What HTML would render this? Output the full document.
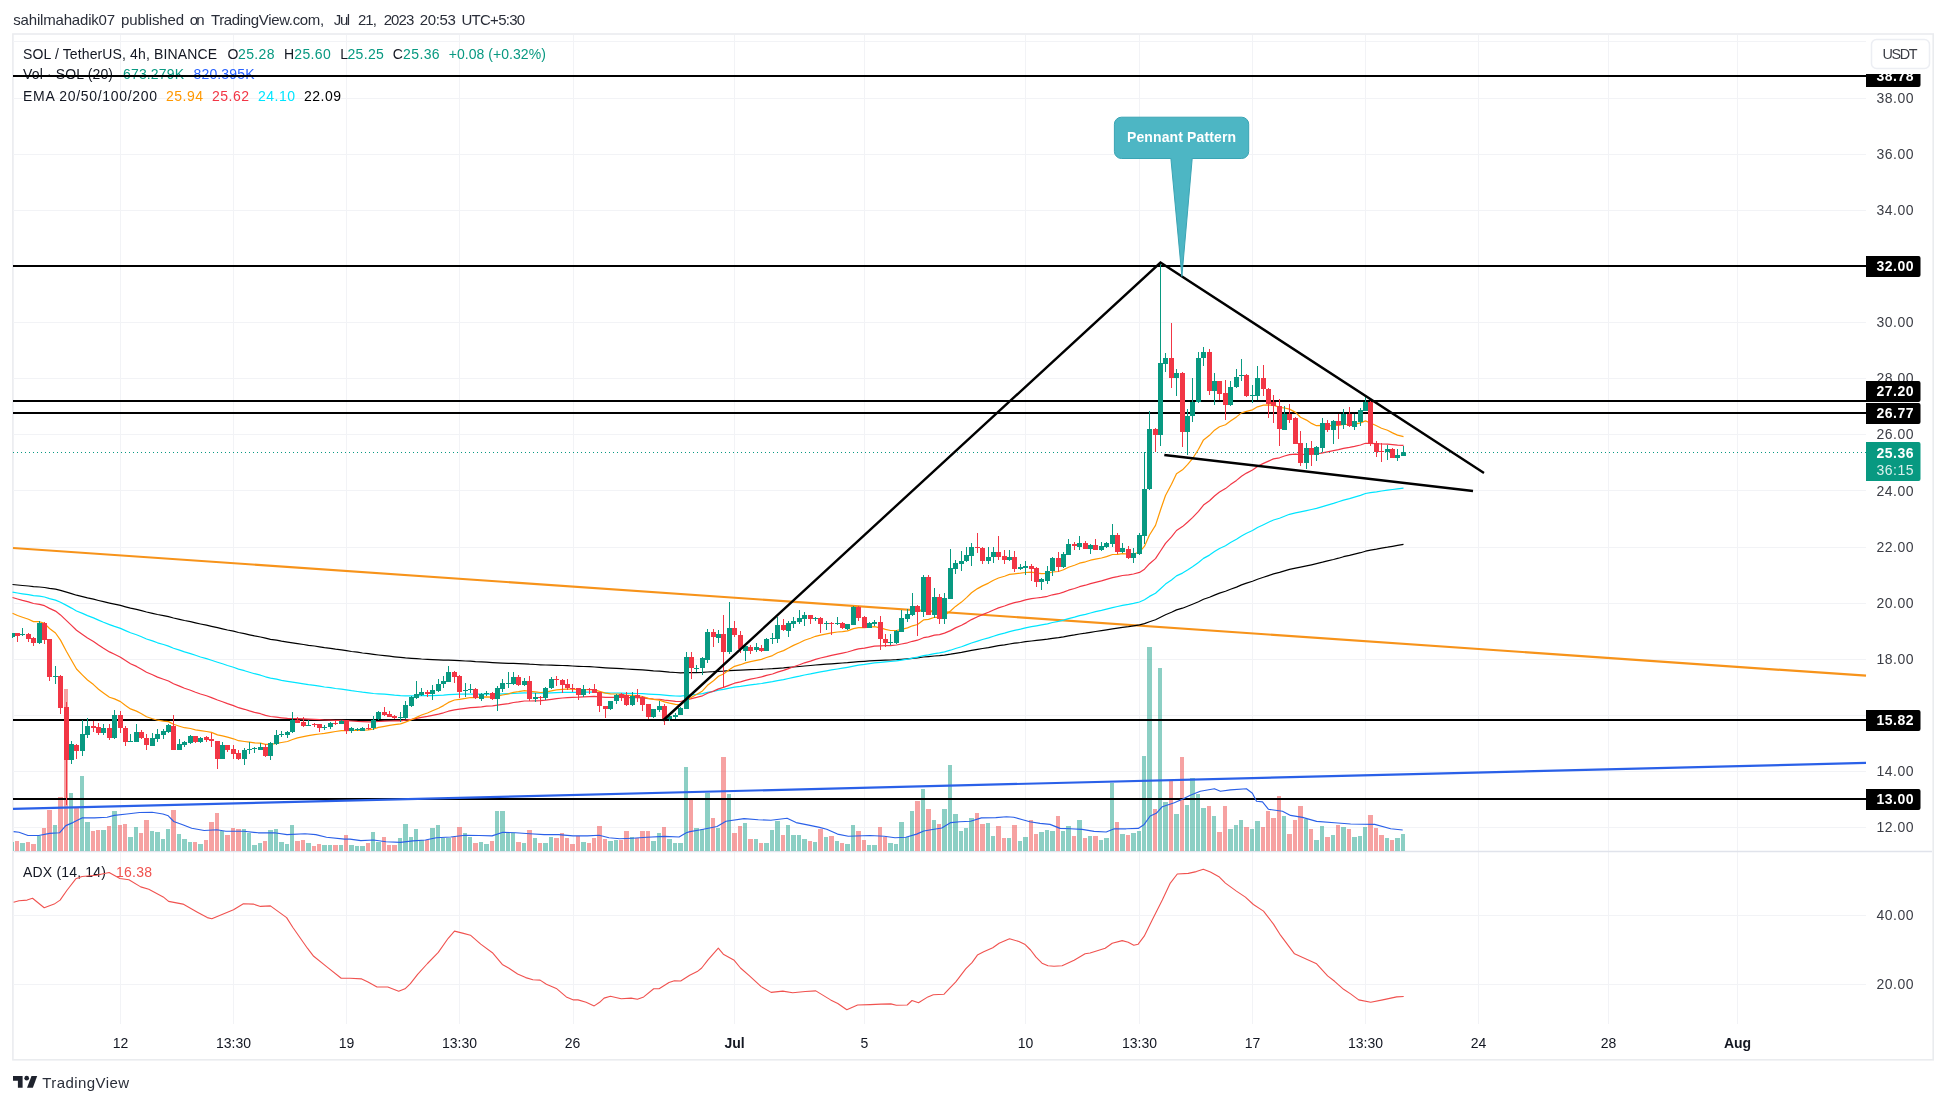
<!DOCTYPE html>
<html><head><meta charset="utf-8"><title>SOL / TetherUS chart</title>
<style>html,body{margin:0;padding:0;background:#fff;font-family:"Liberation Sans",sans-serif}svg{display:block;will-change:transform}text{font-family:"Liberation Sans",sans-serif}</style>
</head><body><svg width="1946" height="1104" viewBox="0 0 1946 1104" font-family="Liberation Sans, sans-serif" shape-rendering="auto"><rect x="12.9" y="34" width="1920.3" height="1025.8" fill="#fff" stroke="#eaecef" stroke-width="1.6"/>
<path d="M13 827.5H1866 M13 771.5H1866 M13 715.5H1866 M13 659.5H1866 M13 603.5H1866 M13 547.5H1866 M13 490.5H1866 M13 434.5H1866 M13 378.5H1866 M13 322.5H1866 M13 266.5H1866 M13 210.5H1866 M13 154.5H1866 M13 98.5H1866 M13 41.5H1866 M13 915.5H1866 M13 984.5H1866 M120.5 35V1024 M233.5 35V1024 M346.5 35V1024 M459.5 35V1024 M573.5 35V1024 M734.5 35V1024 M864.5 35V1024 M1025.5 35V1024 M1139.5 35V1024 M1252.5 35V1024 M1365.5 35V1024 M1478.5 35V1024 M1608.5 35V1024 M1737.5 35V1024" stroke="#f2f3f6" stroke-width="1" fill="none"/>
<path d="M14 851.5H1932" stroke="#e0e3eb" stroke-width="1.5" fill="none"/>
<text x="13.3" y="24.7" font-size="15" fill="#2a2e39" textLength="101.8">sahilmahadik07</text>
<text x="121" y="24.7" font-size="15" fill="#2a2e39" textLength="63">published</text>
<text x="189.7" y="24.7" font-size="15" fill="#2a2e39" textLength="15">on</text>
<text x="210.9" y="24.7" font-size="15" fill="#2a2e39" textLength="113.2">TradingView.com,</text>
<text x="333.8" y="24.7" font-size="15" fill="#2a2e39" textLength="16.4">Jul</text>
<text x="357.9" y="24.7" font-size="15" fill="#2a2e39" textLength="18.9">21,</text>
<text x="383.7" y="24.7" font-size="15" fill="#2a2e39" textLength="30.6">2023</text>
<text x="419.8" y="24.7" font-size="15" fill="#2a2e39" textLength="36.1">20:53</text>
<text x="461.4" y="24.7" font-size="15" fill="#2a2e39" textLength="63.8">UTC+5:30</text>
<text x="23" y="58.6" font-size="14" fill="#131722" textLength="194">SOL / TetherUS, 4h, BINANCE</text>
<text x="227.6" y="58.8" font-size="14" fill="#131722">O</text>
<text x="238" y="58.8" font-size="14" fill="#089981" textLength="36.5">25.28</text>
<text x="284" y="58.8" font-size="14" fill="#131722">H</text>
<text x="294.3" y="58.8" font-size="14" fill="#089981" textLength="36.5">25.60</text>
<text x="340.2" y="58.8" font-size="14" fill="#131722">L</text>
<text x="347.4" y="58.8" font-size="14" fill="#089981" textLength="36.5">25.25</text>
<text x="392.8" y="58.8" font-size="14" fill="#131722">C</text>
<text x="403.1" y="58.8" font-size="14" fill="#089981" textLength="36.5">25.36</text>
<text x="448.8" y="58.8" font-size="14" fill="#089981" textLength="97">+0.08 (+0.32%)</text>
<text x="23" y="79" font-size="14" fill="#131722" textLength="90">Vol · SOL (20)</text>
<text x="123" y="79" font-size="14" fill="#089981" textLength="61">673.279K</text>
<text x="193.5" y="79" font-size="14" fill="#2962ff" textLength="61">820.395K</text>
<text x="23" y="100.5" font-size="14" fill="#131722" textLength="134">EMA 20/50/100/200</text>
<text x="166" y="100.5" font-size="14" fill="#ff9800" textLength="37">25.94</text>
<text x="212" y="100.5" font-size="14" fill="#f23645" textLength="37">25.62</text>
<text x="258" y="100.5" font-size="14" fill="#00e5ff" textLength="37">24.10</text>
<text x="304" y="100.5" font-size="14" fill="#000" textLength="37">22.09</text>
<text x="23" y="877" font-size="14" fill="#131722" textLength="83">ADX (14, 14)</text>
<text x="116" y="877" font-size="14" fill="#f0524f" textLength="36">16.38</text>
<path d="M13 842h1V851h-1zM20 843h5V851h-5zM37 836h4V851h-4zM53 825h4V851h-4zM69 793h4V851h-4zM80 776h4V851h-4zM85 822h5V851h-5zM101 830h5V851h-5zM112 811h5V851h-5zM128 837h5V851h-5zM134 827h4V851h-4zM150 831h4V851h-4zM155 832h5V851h-5zM161 839h4V851h-4zM166 829h4V851h-4zM177 834h4V851h-4zM182 839h5V851h-5zM188 842h4V851h-4zM198 844h5V851h-5zM220 831h4V851h-4zM242 829h4V851h-4zM247 833h4V851h-4zM252 845h5V851h-5zM258 843h4V851h-4zM268 830h5V851h-5zM274 829h4V851h-4zM279 842h5V851h-5zM285 844h4V851h-4zM290 825h4V851h-4zM306 843h5V851h-5zM322 845h5V851h-5zM328 845h4V851h-4zM339 845h4V851h-4zM349 845h5V851h-5zM355 846h4V851h-4zM360 846h5V851h-5zM371 832h4V851h-4zM376 842h5V851h-5zM398 838h4V851h-4zM403 824h5V851h-5zM409 837h4V851h-4zM414 829h4V851h-4zM419 840h5V851h-5zM430 828h5V851h-5zM436 825h4V851h-4zM441 838h4V851h-4zM446 838h5V851h-5zM463 833h4V851h-4zM468 837h4V851h-4zM479 842h4V851h-4zM484 844h5V851h-5zM495 811h4V851h-4zM500 811h5V851h-5zM506 832h4V851h-4zM511 833h4V851h-4zM522 843h4V851h-4zM533 838h4V851h-4zM543 843h5V851h-5zM549 837h4V851h-4zM581 842h5V851h-5zM608 841h5V851h-5zM614 840h4V851h-4zM630 837h4V851h-4zM651 841h5V851h-5zM657 833h4V851h-4zM667 839h5V851h-5zM673 843h4V851h-4zM678 843h5V851h-5zM684 767h4V851h-4zM694 828h5V851h-5zM700 829h4V851h-4zM705 793h5V851h-5zM716 828h4V851h-4zM727 794h4V851h-4zM743 823h4V851h-4zM754 839h4V851h-4zM764 843h5V851h-5zM770 830h4V851h-4zM775 821h5V851h-5zM786 825h4V851h-4zM791 835h5V851h-5zM797 835h4V851h-4zM802 839h5V851h-5zM813 842h4V851h-4zM824 837h4V851h-4zM835 841h4V851h-4zM845 844h5V851h-5zM851 825h4V851h-4zM867 845h4V851h-4zM872 845h5V851h-5zM888 843h5V851h-5zM894 844h4V851h-4zM899 822h5V851h-5zM905 837h4V851h-4zM910 811h4V851h-4zM921 789h4V851h-4zM932 820h4V851h-4zM942 809h5V851h-5zM948 765h4V851h-4zM953 814h5V851h-5zM959 831h4V851h-4zM964 828h4V851h-4zM969 818h5V851h-5zM986 823h4V851h-4zM991 836h4V851h-4zM1007 838h4V851h-4zM1018 841h4V851h-4zM1023 837h5V851h-5zM1039 832h5V851h-5zM1045 830h4V851h-4zM1050 831h5V851h-5zM1061 831h4V851h-4zM1066 826h5V851h-5zM1077 820h5V851h-5zM1088 836h4V851h-4zM1099 840h4V851h-4zM1104 838h5V851h-5zM1110 783h4V851h-4zM1120 834h5V851h-5zM1131 833h5V851h-5zM1137 831h4V851h-4zM1142 756h4V851h-4zM1147 647h5V851h-5zM1158 668h4V851h-4zM1163 802h5V851h-5zM1174 814h5V851h-5zM1185 805h4V851h-4zM1190 778h5V851h-5zM1196 794h4V851h-4zM1201 808h5V851h-5zM1212 816h4V851h-4zM1228 829h5V851h-5zM1234 825h4V851h-4zM1239 820h4V851h-4zM1250 829h4V851h-4zM1255 821h5V851h-5zM1282 816h4V851h-4zM1304 819h4V851h-4zM1314 840h5V851h-5zM1320 826h4V851h-4zM1331 835h4V851h-4zM1341 827h5V851h-5zM1352 837h5V851h-5zM1358 836h4V851h-4zM1363 827h4V851h-4zM1385 838h4V851h-4zM1395 838h5V851h-5zM1401 834h4V851h-4z" fill="#1a9f8a" fill-opacity="0.5"/>
<path d="M15 841h4V851h-4zM26 842h4V851h-4zM31 844h5V851h-5zM42 828h4V851h-4zM47 810h5V851h-5zM58 797h5V851h-5zM64 689h4V851h-4zM74 807h5V851h-5zM91 831h4V851h-4zM96 830h4V851h-4zM107 826h4V851h-4zM118 825h4V851h-4zM123 824h4V851h-4zM139 833h4V851h-4zM144 820h5V851h-5zM171 810h5V851h-5zM193 842h4V851h-4zM204 840h4V851h-4zM209 822h5V851h-5zM215 813h4V851h-4zM225 835h5V851h-5zM231 828h4V851h-4zM236 829h5V851h-5zM263 841h4V851h-4zM295 841h5V851h-5zM301 840h4V851h-4zM312 846h4V851h-4zM317 844h4V851h-4zM333 845h5V851h-5zM344 835h4V851h-4zM366 843h4V851h-4zM382 837h4V851h-4zM387 845h4V851h-4zM392 845h5V851h-5zM425 840h4V851h-4zM452 837h4V851h-4zM457 827h5V851h-5zM473 843h5V851h-5zM490 841h4V851h-4zM516 842h5V851h-5zM527 830h5V851h-5zM538 843h4V851h-4zM554 838h5V851h-5zM560 833h4V851h-4zM565 838h4V851h-4zM570 844h5V851h-5zM576 836h4V851h-4zM587 843h4V851h-4zM592 838h4V851h-4zM597 826h5V851h-5zM603 839h4V851h-4zM619 840h4V851h-4zM624 831h5V851h-5zM635 838h4V851h-4zM640 831h5V851h-5zM646 831h4V851h-4zM662 827h4V851h-4zM689 800h4V851h-4zM711 818h4V851h-4zM721 757h5V851h-5zM732 833h5V851h-5zM738 826h4V851h-4zM748 839h5V851h-5zM759 843h4V851h-4zM781 835h4V851h-4zM808 841h4V851h-4zM818 829h5V851h-5zM829 836h5V851h-5zM840 843h4V851h-4zM856 831h5V851h-5zM862 840h4V851h-4zM878 827h4V851h-4zM883 837h4V851h-4zM915 801h5V851h-5zM926 809h5V851h-5zM937 824h4V851h-4zM975 813h4V851h-4zM980 824h5V851h-5zM996 826h5V851h-5zM1002 838h4V851h-4zM1012 825h5V851h-5zM1029 820h4V851h-4zM1034 834h4V851h-4zM1056 816h4V851h-4zM1072 836h4V851h-4zM1083 838h4V851h-4zM1093 836h5V851h-5zM1115 822h4V851h-4zM1126 835h4V851h-4zM1153 809h4V851h-4zM1169 781h4V851h-4zM1180 757h4V851h-4zM1207 806h4V851h-4zM1217 832h5V851h-5zM1223 806h4V851h-4zM1244 827h5V851h-5zM1261 827h4V851h-4zM1266 811h4V851h-4zM1271 818h5V851h-5zM1277 796h4V851h-4zM1287 834h5V851h-5zM1293 820h4V851h-4zM1298 806h5V851h-5zM1309 829h4V851h-4zM1325 837h5V851h-5zM1336 825h4V851h-4zM1347 829h4V851h-4zM1368 815h5V851h-5zM1374 828h4V851h-4zM1379 835h5V851h-5zM1390 840h4V851h-4z" fill="#ee4646" fill-opacity="0.5"/>
<path d="M13 76H1866" stroke="#000" stroke-width="2"/>
<path d="M13 266H1866" stroke="#000" stroke-width="2"/>
<path d="M13 401H1866" stroke="#000" stroke-width="2"/>
<path d="M13 413H1866" stroke="#000" stroke-width="2"/>
<path d="M13 720H1866" stroke="#000" stroke-width="2"/>
<path d="M13 799H1866" stroke="#000" stroke-width="2"/>
<path d="M13 548L1866 675.7" stroke="#f7931a" stroke-width="2.2" fill="none"/>
<path d="M13 808.9L1866 762.9" stroke="#2a60e8" stroke-width="2.2" fill="none"/>
<polyline points="13.6,831.6 19.0,832.3 28.0,835.5 38.8,835.5 49.6,833.4 59.5,832.8 65.8,825.6 72.9,822.6 81.9,817.9 94.5,817.9 107.1,817.2 114.3,815.4 126.9,814.0 139.5,812.5 152.1,812.2 162.9,814.0 168.3,815.8 173.7,821.5 182.7,824.7 191.7,828.3 204.2,830.5 216.8,829.8 225.8,831.2 243.8,831.2 258.2,832.8 274.4,832.8 287.0,834.6 305.0,833.7 315.8,834.6 326.5,837.3 344.5,839.1 350.0,839.1 360.8,840.6 373.4,840.0 386.0,841.8 400.4,842.4 412.9,840.9 425.5,840.0 436.3,837.7 450.7,837.0 465.1,835.2 479.5,835.5 492.1,835.9 502.9,832.3 515.5,832.8 529.9,833.7 544.2,834.6 558.6,834.6 573.0,835.9 587.4,835.9 599.1,835.2 609.0,837.7 619.8,838.8 632.4,838.2 646.8,837.3 664.7,836.4 679.1,837.0 686.3,832.8 690.0,831.6 700.8,829.8 717.0,826.5 726.0,821.2 744.0,818.6 758.3,819.7 770.9,820.3 787.1,818.3 796.1,822.6 808.7,825.1 819.5,827.4 826.7,829.2 837.5,834.1 848.3,836.3 869.9,835.5 884.2,836.3 895.0,837.7 905.8,837.3 916.6,834.1 923.8,831.0 931.0,829.8 941.8,828.0 950.8,822.6 959.8,821.7 970.6,821.2 981.4,817.9 995.8,817.6 1006.5,816.7 1013.7,817.2 1022.7,819.7 1029.9,821.7 1040.0,823.4 1050.0,824.4 1060.1,828.4 1070.1,828.8 1082.1,829.4 1094.1,831.4 1106.2,832.0 1114.2,828.8 1126.2,828.8 1138.2,828.4 1144.2,824.4 1150.2,816.0 1156.3,813.3 1162.3,806.7 1174.3,802.7 1182.3,799.3 1190.3,795.3 1200.3,791.3 1214.4,788.7 1220.4,791.3 1230.4,789.9 1246.4,788.7 1252.4,793.3 1256.5,801.3 1262.5,801.9 1268.5,809.3 1282.5,811.3 1290.5,815.4 1302.5,817.4 1316.6,821.4 1334.6,822.8 1350.6,824.0 1374.7,824.4 1390.7,828.8 1402.7,830.0" fill="none" stroke="#2a60e8" stroke-width="1.15" stroke-linejoin="round"/>
<polyline points="12.5,584.5 17.5,585.0 22.5,585.5 28.5,586.0 33.5,586.6 39.5,587.0 44.5,587.5 49.5,588.4 55.5,589.2 60.5,590.4 66.5,592.1 71.5,593.6 76.5,595.2 82.5,596.6 87.5,597.9 93.5,599.2 98.5,600.5 103.5,601.7 109.5,603.1 114.5,604.2 120.5,605.4 125.5,606.8 130.5,608.1 136.5,609.4 141.5,610.7 146.5,612.0 152.5,613.3 157.5,614.5 163.5,615.6 168.5,616.7 173.5,618.0 179.5,619.3 184.5,620.5 190.5,621.7 195.5,622.9 200.5,624.0 206.5,625.2 211.5,626.3 217.5,627.6 222.5,628.8 227.5,630.0 233.5,631.2 238.5,632.5 244.5,633.7 249.5,634.8 254.5,635.9 260.5,637.0 265.5,638.2 270.5,639.3 276.5,640.2 281.5,641.2 287.5,642.1 292.5,642.8 297.5,643.6 303.5,644.5 308.5,645.3 314.5,646.0 319.5,646.9 324.5,647.7 330.5,648.4 335.5,649.2 341.5,649.9 346.5,650.7 351.5,651.5 357.5,652.2 362.5,653.0 368.5,653.7 373.5,654.4 378.5,655.0 384.5,655.6 389.5,656.2 394.5,656.8 400.5,657.4 405.5,657.9 411.5,658.3 416.5,658.6 421.5,659.0 427.5,659.3 432.5,659.6 438.5,659.9 443.5,660.1 448.5,660.2 454.5,660.4 459.5,660.7 465.5,661.0 470.5,661.2 475.5,661.6 481.5,661.9 486.5,662.2 492.5,662.6 497.5,662.9 502.5,663.1 508.5,663.3 513.5,663.4 518.5,663.6 524.5,663.8 529.5,664.2 535.5,664.5 540.5,664.8 545.5,665.0 551.5,665.2 556.5,665.3 562.5,665.5 567.5,665.7 572.5,666.0 578.5,666.3 583.5,666.5 589.5,666.7 594.5,667.0 599.5,667.4 605.5,667.8 610.5,668.1 616.5,668.4 621.5,668.7 626.5,669.0 632.5,669.3 637.5,669.6 642.5,669.9 648.5,670.4 653.5,670.8 659.5,671.1 664.5,671.6 669.5,672.1 675.5,672.5 680.5,672.8 686.5,672.7 691.5,672.6 696.5,672.6 702.5,672.4 707.5,672.0 713.5,671.7 718.5,671.3 723.5,671.1 729.5,670.7 734.5,670.3 740.5,670.1 745.5,669.9 750.5,669.7 756.5,669.5 761.5,669.3 766.5,669.0 772.5,668.7 777.5,668.3 783.5,667.9 788.5,667.4 793.5,667.0 799.5,666.5 804.5,666.0 810.5,665.5 815.5,665.0 820.5,664.6 826.5,664.2 831.5,663.8 837.5,663.4 842.5,663.0 847.5,662.7 853.5,662.1 858.5,661.7 864.5,661.3 869.5,660.9 874.5,660.6 880.5,660.3 885.5,660.2 890.5,660.0 896.5,659.7 901.5,659.3 907.5,658.8 912.5,658.3 917.5,657.8 923.5,657.0 928.5,656.6 934.5,656.0 939.5,655.7 944.5,655.1 950.5,654.2 955.5,653.3 961.5,652.4 966.5,651.4 971.5,650.4 977.5,649.4 982.5,648.5 988.5,647.6 993.5,646.6 998.5,645.7 1004.5,644.9 1009.5,644.0 1014.5,643.2 1020.5,642.5 1025.5,641.7 1031.5,641.0 1036.5,640.4 1041.5,639.8 1047.5,639.1 1052.5,638.3 1058.5,637.6 1063.5,636.8 1068.5,635.8 1074.5,634.9 1079.5,634.0 1085.5,633.2 1090.5,632.3 1095.5,631.5 1101.5,630.6 1106.5,629.8 1112.5,628.8 1117.5,628.1 1122.5,627.3 1128.5,626.6 1133.5,625.8 1139.5,624.9 1144.5,623.6 1149.5,621.7 1155.5,619.8 1160.5,617.2 1165.5,614.7 1171.5,612.3 1176.5,609.9 1182.5,608.2 1187.5,606.2 1192.5,604.2 1198.5,601.8 1203.5,599.3 1209.5,597.2 1214.5,595.1 1219.5,593.1 1225.5,591.2 1230.5,589.2 1236.5,587.1 1241.5,584.9 1246.5,583.1 1252.5,581.2 1257.5,579.2 1263.5,577.3 1268.5,575.6 1273.5,573.9 1279.5,572.4 1284.5,570.9 1289.5,569.4 1295.5,568.1 1300.5,567.1 1306.5,565.9 1311.5,564.8 1316.5,563.6 1322.5,562.2 1327.5,560.9 1333.5,559.5 1338.5,558.2 1343.5,556.7 1349.5,555.4 1354.5,554.1 1360.5,552.7 1365.5,551.2 1370.5,550.1 1376.5,549.1 1381.5,548.1 1387.5,547.2 1392.5,546.3 1397.5,545.4 1403.5,544.4" fill="none" stroke="#000000" stroke-width="1.2" stroke-linejoin="round"/>
<polyline points="12.5,592.1 17.5,593.0 22.5,593.8 28.5,594.7 33.5,595.6 39.5,596.2 44.5,597.0 49.5,598.6 55.5,600.1 60.5,602.3 66.5,605.4 71.5,608.1 76.5,611.0 82.5,613.4 87.5,615.6 93.5,617.9 98.5,620.1 103.5,622.3 109.5,624.6 114.5,626.4 120.5,628.4 125.5,630.6 130.5,632.8 136.5,634.8 141.5,636.8 146.5,639.0 152.5,640.9 157.5,642.8 163.5,644.5 168.5,646.1 173.5,648.2 179.5,650.1 184.5,651.9 190.5,653.6 195.5,655.3 200.5,657.0 206.5,658.6 211.5,660.2 217.5,662.2 222.5,663.8 227.5,665.5 233.5,667.3 238.5,669.1 244.5,670.7 249.5,672.2 254.5,673.7 260.5,675.2 265.5,676.8 270.5,678.1 276.5,679.2 281.5,680.3 287.5,681.3 292.5,682.1 297.5,682.9 303.5,683.8 308.5,684.6 314.5,685.4 319.5,686.2 324.5,687.0 330.5,687.7 335.5,688.5 341.5,689.1 346.5,689.9 351.5,690.7 357.5,691.5 362.5,692.2 368.5,692.9 373.5,693.5 378.5,693.8 384.5,694.2 389.5,694.7 394.5,695.2 400.5,695.6 405.5,695.8 411.5,695.8 416.5,695.8 421.5,695.7 427.5,695.7 432.5,695.6 438.5,695.3 443.5,695.1 448.5,694.6 454.5,694.3 459.5,694.2 465.5,694.1 470.5,694.0 475.5,694.1 481.5,694.1 486.5,694.1 492.5,694.2 497.5,694.1 502.5,693.9 508.5,693.6 513.5,693.3 518.5,693.2 524.5,692.9 529.5,693.0 535.5,693.1 540.5,693.2 545.5,693.1 551.5,692.8 556.5,692.6 562.5,692.4 567.5,692.3 572.5,692.3 578.5,692.3 583.5,692.2 589.5,692.2 594.5,692.2 599.5,692.5 605.5,692.8 610.5,693.0 616.5,693.0 621.5,693.1 626.5,693.3 632.5,693.4 637.5,693.5 642.5,693.7 648.5,694.1 653.5,694.4 659.5,694.7 664.5,695.2 669.5,695.6 675.5,696.0 680.5,696.2 686.5,695.4 691.5,694.9 696.5,694.4 702.5,693.6 707.5,692.4 713.5,691.3 718.5,690.2 723.5,689.4 729.5,688.2 734.5,687.2 740.5,686.4 745.5,685.6 750.5,684.9 756.5,684.2 761.5,683.5 766.5,682.6 772.5,681.7 777.5,680.6 783.5,679.6 788.5,678.5 793.5,677.4 799.5,676.2 804.5,675.0 810.5,673.9 815.5,672.8 820.5,671.8 826.5,670.8 831.5,669.9 837.5,669.0 842.5,668.2 847.5,667.3 853.5,666.1 858.5,665.2 864.5,664.4 869.5,663.6 874.5,662.8 880.5,662.3 885.5,661.9 890.5,661.5 896.5,660.9 901.5,660.1 907.5,659.2 912.5,658.1 917.5,657.2 923.5,655.6 928.5,654.8 934.5,653.6 939.5,652.9 944.5,651.9 950.5,650.2 955.5,648.5 961.5,646.7 966.5,644.9 971.5,643.0 977.5,641.1 982.5,639.5 988.5,637.9 993.5,636.2 998.5,634.6 1004.5,633.1 1009.5,631.6 1014.5,630.4 1020.5,629.1 1025.5,627.9 1031.5,626.7 1036.5,625.8 1041.5,624.9 1047.5,623.8 1052.5,622.5 1058.5,621.4 1063.5,620.1 1068.5,618.6 1074.5,617.1 1079.5,615.7 1085.5,614.3 1090.5,613.0 1095.5,611.7 1101.5,610.4 1106.5,609.1 1112.5,607.6 1117.5,606.5 1122.5,605.4 1128.5,604.4 1133.5,603.4 1139.5,602.0 1144.5,599.8 1149.5,596.4 1155.5,593.2 1160.5,588.7 1165.5,584.1 1171.5,580.0 1176.5,575.9 1182.5,573.1 1187.5,570.0 1192.5,566.7 1198.5,562.5 1203.5,558.4 1209.5,555.1 1214.5,551.6 1219.5,548.5 1225.5,545.7 1230.5,542.5 1236.5,539.2 1241.5,536.0 1246.5,533.2 1252.5,530.5 1257.5,527.5 1263.5,524.7 1268.5,522.3 1273.5,520.0 1279.5,518.2 1284.5,516.2 1289.5,514.3 1295.5,512.9 1300.5,511.9 1306.5,510.6 1311.5,509.5 1316.5,508.3 1322.5,506.6 1327.5,505.1 1333.5,503.4 1338.5,501.8 1343.5,500.1 1349.5,498.6 1354.5,497.1 1360.5,495.4 1365.5,493.5 1370.5,492.6 1376.5,491.8 1381.5,491.0 1387.5,490.1 1392.5,489.5 1397.5,488.8 1403.5,488.1" fill="none" stroke="#00e5ff" stroke-width="1.2" stroke-linejoin="round"/>
<polyline points="12.5,597.5 17.5,599.0 22.5,600.4 28.5,601.9 33.5,603.5 39.5,604.3 44.5,605.7 49.5,608.4 55.5,611.1 60.5,614.9 66.5,620.6 71.5,625.4 76.5,630.3 82.5,634.4 87.5,638.0 93.5,641.5 98.5,645.1 103.5,648.3 109.5,651.9 114.5,654.3 120.5,657.2 125.5,660.6 130.5,663.7 136.5,666.4 141.5,669.2 146.5,672.2 152.5,674.8 157.5,677.1 163.5,679.2 168.5,681.0 173.5,683.7 179.5,686.1 184.5,688.3 190.5,690.2 195.5,692.2 200.5,694.0 206.5,695.8 211.5,697.6 217.5,700.0 222.5,701.7 227.5,703.6 233.5,705.6 238.5,707.7 244.5,709.3 249.5,710.9 254.5,712.3 260.5,713.7 265.5,715.4 270.5,716.5 276.5,717.2 281.5,717.8 287.5,718.4 292.5,718.5 297.5,718.6 303.5,718.9 308.5,719.1 314.5,719.4 319.5,719.7 324.5,720.0 330.5,720.1 335.5,720.3 341.5,720.3 346.5,720.7 351.5,721.0 357.5,721.4 362.5,721.6 368.5,721.9 373.5,721.8 378.5,721.5 384.5,721.2 389.5,721.0 394.5,720.9 400.5,720.8 405.5,720.2 411.5,719.3 416.5,718.3 421.5,717.3 427.5,716.3 432.5,715.3 438.5,714.1 443.5,712.8 448.5,711.2 454.5,709.9 459.5,709.2 465.5,708.4 470.5,707.7 475.5,707.3 481.5,706.8 486.5,706.2 492.5,705.9 497.5,705.2 502.5,704.4 508.5,703.6 513.5,702.5 518.5,701.9 524.5,701.0 529.5,701.0 535.5,700.8 540.5,700.7 545.5,700.2 551.5,699.3 556.5,698.6 562.5,698.0 567.5,697.7 572.5,697.3 578.5,697.2 583.5,696.9 589.5,696.6 594.5,696.4 599.5,696.8 605.5,697.3 610.5,697.4 616.5,697.4 621.5,697.4 626.5,697.7 632.5,697.6 637.5,697.6 642.5,697.9 648.5,698.6 653.5,699.0 659.5,699.3 664.5,700.1 669.5,700.7 675.5,701.3 680.5,701.5 686.5,699.8 691.5,698.6 696.5,697.4 702.5,695.8 707.5,693.3 713.5,691.1 718.5,688.9 723.5,687.4 729.5,685.1 734.5,683.2 740.5,681.8 745.5,680.4 750.5,679.2 756.5,678.0 761.5,676.9 766.5,675.4 772.5,674.0 777.5,672.1 783.5,670.4 788.5,668.6 793.5,666.7 799.5,664.8 804.5,662.8 810.5,661.1 815.5,659.4 820.5,658.0 826.5,656.7 831.5,655.4 837.5,654.1 842.5,653.1 847.5,652.0 853.5,650.2 858.5,648.9 864.5,648.1 869.5,647.1 874.5,646.1 880.5,645.9 885.5,645.7 890.5,645.6 896.5,645.0 901.5,644.0 907.5,642.8 912.5,641.3 917.5,640.2 923.5,637.7 928.5,636.8 934.5,635.2 939.5,634.6 944.5,633.1 950.5,630.6 955.5,627.9 961.5,625.3 966.5,622.6 971.5,619.6 977.5,616.8 982.5,614.6 988.5,612.3 993.5,610.0 998.5,607.9 1004.5,606.0 1009.5,604.1 1014.5,602.7 1020.5,601.3 1025.5,599.9 1031.5,598.7 1036.5,598.0 1041.5,597.3 1047.5,596.3 1052.5,594.8 1058.5,593.7 1063.5,592.1 1068.5,590.2 1074.5,588.5 1079.5,586.7 1085.5,585.2 1090.5,583.6 1095.5,582.3 1101.5,580.9 1106.5,579.4 1112.5,577.7 1117.5,576.7 1122.5,575.5 1128.5,574.8 1133.5,574.0 1139.5,572.4 1144.5,569.2 1149.5,563.7 1155.5,558.6 1160.5,551.0 1165.5,543.4 1171.5,536.9 1176.5,530.5 1182.5,526.6 1187.5,522.3 1192.5,517.6 1198.5,511.4 1203.5,505.1 1209.5,500.7 1214.5,496.0 1219.5,492.0 1225.5,488.6 1230.5,484.6 1236.5,480.4 1241.5,476.2 1246.5,473.1 1252.5,470.0 1257.5,466.4 1263.5,463.4 1268.5,461.1 1273.5,458.9 1279.5,457.8 1284.5,456.0 1289.5,454.6 1295.5,454.2 1300.5,454.5 1306.5,454.3 1311.5,454.3 1316.5,454.0 1322.5,452.8 1327.5,451.9 1333.5,450.7 1338.5,449.7 1343.5,448.3 1349.5,447.4 1354.5,446.4 1360.5,445.0 1365.5,443.3 1370.5,443.3 1376.5,443.6 1381.5,444.0 1387.5,444.2 1392.5,444.7 1397.5,445.1 1403.5,445.4" fill="none" stroke="#f23645" stroke-width="1.2" stroke-linejoin="round"/>
<polyline points="12.5,613.3 17.5,615.5 22.5,617.2 28.5,619.3 33.5,621.6 39.5,621.7 44.5,623.4 49.5,628.5 55.5,633.0 60.5,640.1 66.5,651.5 71.5,660.3 76.5,669.0 82.5,675.1 87.5,680.0 93.5,684.6 98.5,689.2 103.5,692.9 109.5,697.2 114.5,698.9 120.5,701.6 125.5,705.5 130.5,708.9 136.5,711.1 141.5,713.7 146.5,716.7 152.5,718.7 157.5,720.2 163.5,721.2 168.5,721.6 173.5,724.3 179.5,726.2 184.5,727.7 190.5,728.5 195.5,729.8 200.5,730.6 206.5,731.5 211.5,732.4 217.5,734.9 222.5,735.9 227.5,737.2 233.5,738.8 238.5,740.7 244.5,741.5 249.5,742.2 254.5,742.8 260.5,743.2 265.5,744.4 270.5,744.3 276.5,743.4 281.5,742.5 287.5,741.5 292.5,739.5 297.5,737.9 303.5,736.7 308.5,735.6 314.5,734.6 319.5,734.0 324.5,733.3 330.5,732.3 335.5,731.5 341.5,730.6 346.5,730.6 351.5,730.4 357.5,730.3 362.5,730.1 368.5,729.9 373.5,729.0 378.5,727.4 384.5,726.3 389.5,725.4 394.5,724.7 400.5,723.9 405.5,722.1 411.5,719.8 416.5,717.4 421.5,715.0 427.5,713.0 432.5,710.8 438.5,708.2 443.5,705.6 448.5,702.4 454.5,700.0 459.5,699.3 465.5,698.4 470.5,697.5 475.5,697.6 481.5,697.2 486.5,696.8 492.5,697.1 497.5,696.2 502.5,695.0 508.5,693.9 513.5,692.3 518.5,691.6 524.5,690.6 529.5,691.4 535.5,691.9 540.5,692.5 545.5,692.1 551.5,690.8 556.5,689.8 562.5,689.3 567.5,689.2 572.5,689.1 578.5,689.7 583.5,689.6 589.5,689.6 594.5,689.9 599.5,691.4 605.5,693.1 610.5,693.9 616.5,694.0 621.5,694.4 626.5,695.4 632.5,695.4 637.5,695.6 642.5,696.5 648.5,698.4 653.5,699.4 659.5,700.1 664.5,701.9 669.5,703.2 675.5,704.3 680.5,704.7 686.5,700.2 691.5,697.2 696.5,694.4 702.5,690.9 707.5,685.3 713.5,680.8 718.5,676.3 723.5,674.0 729.5,669.6 734.5,666.3 740.5,664.7 745.5,662.9 750.5,661.7 756.5,660.4 761.5,659.4 766.5,657.5 772.5,655.6 777.5,652.7 783.5,650.6 788.5,648.0 793.5,645.4 799.5,642.8 804.5,640.2 810.5,638.2 815.5,636.3 820.5,635.1 826.5,633.9 831.5,632.9 837.5,632.0 842.5,631.7 847.5,630.9 853.5,628.6 858.5,627.6 864.5,627.6 869.5,627.2 874.5,626.7 880.5,627.9 885.5,629.3 890.5,630.5 896.5,630.5 901.5,629.4 907.5,627.9 912.5,625.8 917.5,624.5 923.5,619.9 928.5,619.4 934.5,617.3 939.5,617.4 944.5,615.6 950.5,611.0 955.5,606.4 961.5,602.1 966.5,597.6 971.5,592.8 977.5,588.6 982.5,585.9 988.5,583.1 993.5,580.2 998.5,578.0 1004.5,576.2 1009.5,574.4 1014.5,573.8 1020.5,573.2 1025.5,572.5 1031.5,572.2 1036.5,573.1 1041.5,573.7 1047.5,573.5 1052.5,572.0 1058.5,571.5 1063.5,569.8 1068.5,567.3 1074.5,565.3 1079.5,563.2 1085.5,561.8 1090.5,560.2 1095.5,559.2 1101.5,558.0 1106.5,556.6 1112.5,554.5 1117.5,554.3 1122.5,553.7 1128.5,554.1 1133.5,554.0 1139.5,552.1 1144.5,546.2 1149.5,535.0 1155.5,525.4 1160.5,510.0 1165.5,495.5 1171.5,484.3 1176.5,473.7 1182.5,469.8 1187.5,464.7 1192.5,458.7 1198.5,449.2 1203.5,439.9 1209.5,435.3 1214.5,430.2 1219.5,426.7 1225.5,424.7 1230.5,421.1 1236.5,416.9 1241.5,412.9 1246.5,411.3 1252.5,409.8 1257.5,406.8 1263.5,405.1 1268.5,404.9 1273.5,405.1 1279.5,407.4 1284.5,408.0 1289.5,409.1 1295.5,412.4 1300.5,417.2 1306.5,420.1 1311.5,423.4 1316.5,425.7 1322.5,425.4 1327.5,425.9 1333.5,425.4 1338.5,425.4 1343.5,424.3 1349.5,424.5 1354.5,424.2 1360.5,422.9 1365.5,420.9 1370.5,423.0 1376.5,425.8 1381.5,428.3 1387.5,430.3 1392.5,432.9 1397.5,435.1 1403.5,436.7" fill="none" stroke="#ff9800" stroke-width="1.2" stroke-linejoin="round"/>
<path d="M13 452.5H1866" stroke="#089981" stroke-width="1" stroke-dasharray="1 3" fill="none"/>
<path d="M12.5 633V638M22.5 628V636M39.5 621V644M55.5 666V684M71.5 741V764M82.5 720V756M87.5 718V738M103.5 724V735M114.5 710V739M130.5 734V742M136.5 724V742M152.5 733V746M157.5 729V742M163.5 729V739M168.5 724V733M179.5 739V750M184.5 741V747M190.5 735V744M200.5 737V743M222.5 742V759M244.5 748V765M249.5 742V754M254.5 747V753M260.5 743V750M270.5 742V760M276.5 730V745M281.5 731V737M287.5 731V738M292.5 712V733M308.5 720V726M324.5 725V730M330.5 722V729M341.5 720V724M351.5 727V733M357.5 728V731M362.5 727V731M373.5 716V730M378.5 711V720M400.5 712V722M405.5 701V719M411.5 696V707M416.5 681V699M421.5 688V696M432.5 685V700M438.5 679V692M443.5 676V688M448.5 666V682M465.5 683V697M470.5 684V693M481.5 693V701M486.5 691V696M497.5 686V711M502.5 679V692M508.5 672V688M513.5 672V685M524.5 678V686M535.5 693V702M545.5 687V700M551.5 677V689M583.5 685V697M610.5 701V710M616.5 694V704M632.5 692V706M653.5 709V718M659.5 701V712M669.5 716V721M675.5 713V719M680.5 707V715M686.5 652V709M696.5 665V672M702.5 657V675M707.5 629V663M718.5 630V643M729.5 602V654M745.5 646V661M756.5 643V652M766.5 638V651M772.5 633V644M777.5 617V643M788.5 621V637M793.5 617V628M799.5 610V624M804.5 612V626M815.5 617V621M826.5 621V630M837.5 617V625M847.5 624V630M853.5 606V625M869.5 622V628M874.5 620V626M890.5 634V645M896.5 630V644M901.5 610V632M907.5 609V622M912.5 593V616M923.5 575V617M934.5 588V618M944.5 593V624M950.5 549V599M955.5 560V574M961.5 551V571M966.5 547V562M971.5 543V566M988.5 547V564M993.5 547V563M1009.5 550V561M1020.5 564V570M1025.5 561V575M1041.5 578V590M1047.5 566V584M1052.5 557V576M1063.5 552V568M1068.5 539V555M1079.5 536V550M1090.5 544V554M1101.5 542V551M1106.5 542V548M1112.5 524V547M1122.5 543V553M1133.5 548V563M1139.5 533V555M1144.5 452V544M1149.5 411V490M1160.5 263V446M1165.5 353V372M1176.5 369V396M1187.5 409V455M1192.5 378V422M1198.5 352V403M1203.5 347V366M1214.5 373V405M1230.5 381V406M1236.5 369V388M1241.5 359V381M1252.5 385V403M1257.5 366V400M1284.5 406V430M1306.5 443V469M1316.5 446V461M1322.5 418V452M1333.5 420V444M1343.5 409V429M1354.5 414V430M1360.5 408V426M1365.5 397V411M1387.5 445V460M1397.5 449V461M1403.5 446V456" stroke="#089981" stroke-width="1" fill="none"/>
<path d="M17.5 633V642M28.5 633V642M33.5 637V646M44.5 622V644M49.5 639V681M60.5 675V714M66.5 702V805M76.5 744V759M93.5 721V732M98.5 723V735M109.5 724V740M120.5 711V733M125.5 726V746M141.5 730V739M146.5 734V750M173.5 715V750M195.5 736V743M206.5 736V742M211.5 733V747M217.5 741V769M227.5 745V752M233.5 745V759M238.5 750V760M265.5 744V757M297.5 717V723M303.5 717V727M314.5 723V727M319.5 724V732M335.5 721V725M346.5 720V734M368.5 724V730M384.5 707V716M389.5 711V717M394.5 715V719M427.5 690V697M454.5 671V683M459.5 675V698M475.5 688V699M492.5 692V700M518.5 675V686M529.5 676V701M540.5 696V705M556.5 676V686M562.5 679V693M567.5 679V690M572.5 684V692M578.5 688V700M589.5 688V694M594.5 684V693M599.5 692V712M605.5 706V718M621.5 693V701M626.5 692V706M637.5 689V702M642.5 696V711M648.5 704V719M664.5 704V725M691.5 652V679M713.5 629V647M723.5 615V687M734.5 621V637M740.5 631V653M750.5 645V654M761.5 645V652M783.5 619V631M810.5 615V624M820.5 617V633M831.5 622V635M842.5 622V629M858.5 606V621M864.5 616V628M880.5 616V650M885.5 634V647M917.5 605V636M928.5 575V615M939.5 594V624M977.5 533V553M982.5 547V564M998.5 536V560M1004.5 550V564M1014.5 551V572M1031.5 564V581M1036.5 567V587M1058.5 552V572M1074.5 542V550M1085.5 541V549M1095.5 539V550M1117.5 533V554M1128.5 546V559M1155.5 428V452M1171.5 323V388M1182.5 372V447M1209.5 349V395M1219.5 381V400M1225.5 380V420M1246.5 374V397M1263.5 365V396M1268.5 388V418M1273.5 395V423M1279.5 399V446M1289.5 404V423M1295.5 417V444M1300.5 431V466M1311.5 441V466M1327.5 420V432M1338.5 414V439M1349.5 407V427M1370.5 401V446M1376.5 441V457M1381.5 443V462M1392.5 448V458" stroke="#f23645" stroke-width="1" fill="none"/>
<path d="M13 633h2V637h-2zM20 634h5V635h-5zM37 623h5V643h-5zM53 676h5V677h-5zM69 744h5V760h-5zM80 734h5V751h-5zM85 726h5V735h-5zM101 728h5V733h-5zM112 715h5V738h-5zM128 741h5V742h-5zM134 732h5V742h-5zM150 738h5V746h-5zM155 734h5V739h-5zM161 731h5V735h-5zM166 725h5V732h-5zM177 744h5V750h-5zM182 742h5V745h-5zM188 736h5V743h-5zM198 738h5V742h-5zM220 745h5V759h-5zM242 750h5V759h-5zM247 749h5V750h-5zM252 748h5V749h-5zM258 747h5V750h-5zM268 743h5V756h-5zM274 735h5V744h-5zM279 734h5V735h-5zM285 732h5V735h-5zM290 720h5V732h-5zM306 725h5V726h-5zM322 727h5V728h-5zM328 723h5V727h-5zM339 721h5V724h-5zM349 728h5V731h-5zM355 729h5V730h-5zM360 728h5V731h-5zM371 720h5V728h-5zM376 712h5V719h-5zM398 717h5V718h-5zM403 705h5V718h-5zM409 697h5V706h-5zM414 694h5V698h-5zM419 692h5V695h-5zM430 690h5V694h-5zM436 684h5V691h-5zM441 681h5V684h-5zM446 672h5V682h-5zM463 690h5V691h-5zM468 689h5V690h-5zM479 694h5V699h-5zM484 693h5V694h-5zM495 688h5V699h-5zM500 683h5V689h-5zM506 683h5V684h-5zM511 677h5V684h-5zM522 681h5V685h-5zM533 697h5V699h-5zM543 688h5V698h-5zM549 679h5V688h-5zM581 689h5V695h-5zM608 701h5V709h-5zM614 695h5V701h-5zM630 696h5V705h-5zM651 709h5V717h-5zM657 706h5V710h-5zM667 716h5V719h-5zM673 715h5V717h-5zM678 708h5V715h-5zM684 657h5V709h-5zM694 668h5V669h-5zM700 658h5V668h-5zM705 632h5V660h-5zM716 634h5V638h-5zM727 628h5V652h-5zM743 646h5V651h-5zM754 647h5V650h-5zM764 639h5V651h-5zM770 638h5V639h-5zM775 625h5V639h-5zM786 623h5V631h-5zM791 621h5V624h-5zM797 618h5V622h-5zM802 615h5V619h-5zM813 618h5V619h-5zM824 623h5V624h-5zM835 623h5V624h-5zM845 624h5V629h-5zM851 607h5V625h-5zM867 623h5V628h-5zM872 622h5V624h-5zM888 642h5V643h-5zM894 631h5V643h-5zM899 618h5V632h-5zM905 614h5V619h-5zM910 606h5V615h-5zM921 577h5V612h-5zM932 597h5V615h-5zM942 598h5V619h-5zM948 568h5V599h-5zM953 563h5V569h-5zM959 561h5V564h-5zM964 555h5V561h-5zM969 547h5V556h-5zM986 557h5V561h-5zM991 552h5V557h-5zM1007 557h5V560h-5zM1018 567h5V569h-5zM1023 566h5V568h-5zM1039 579h5V582h-5zM1045 571h5V581h-5zM1050 558h5V571h-5zM1061 554h5V567h-5zM1066 544h5V555h-5zM1077 543h5V547h-5zM1088 545h5V549h-5zM1099 546h5V550h-5zM1104 543h5V547h-5zM1110 535h5V544h-5zM1120 548h5V552h-5zM1131 553h5V558h-5zM1137 535h5V554h-5zM1142 489h5V536h-5zM1147 429h5V489h-5zM1158 363h5V435h-5zM1163 358h5V364h-5zM1174 373h5V378h-5zM1185 416h5V432h-5zM1190 402h5V416h-5zM1196 358h5V402h-5zM1201 352h5V358h-5zM1212 381h5V391h-5zM1228 387h5V405h-5zM1234 377h5V387h-5zM1239 375h5V376h-5zM1250 395h5V396h-5zM1255 378h5V396h-5zM1282 414h5V430h-5zM1304 448h5V463h-5zM1314 447h5V455h-5zM1320 423h5V448h-5zM1331 421h5V430h-5zM1341 414h5V425h-5zM1352 421h5V427h-5zM1358 410h5V422h-5zM1363 402h5V411h-5zM1385 449h5V452h-5zM1395 455h5V458h-5zM1401 452h5V456h-5z" fill="#089981"/>
<path d="M15 633h5V636h-5zM26 634h5V639h-5zM31 638h5V643h-5zM42 623h5V640h-5zM47 639h5V677h-5zM58 676h5V708h-5zM64 707h5V760h-5zM74 745h5V751h-5zM91 726h5V728h-5zM96 727h5V733h-5zM107 728h5V738h-5zM118 715h5V728h-5zM123 728h5V742h-5zM139 732h5V738h-5zM144 738h5V745h-5zM171 726h5V750h-5zM193 736h5V742h-5zM204 737h5V740h-5zM209 739h5V741h-5zM215 741h5V759h-5zM225 745h5V750h-5zM231 749h5V754h-5zM236 753h5V759h-5zM263 747h5V756h-5zM295 720h5V723h-5zM301 722h5V726h-5zM312 724h5V725h-5zM317 724h5V728h-5zM333 723h5V724h-5zM344 720h5V731h-5zM366 728h5V729h-5zM382 712h5V715h-5zM387 714h5V717h-5zM392 716h5V718h-5zM425 692h5V694h-5zM452 672h5V677h-5zM457 676h5V692h-5zM473 689h5V698h-5zM490 693h5V699h-5zM516 677h5V685h-5zM527 681h5V699h-5zM538 697h5V698h-5zM554 679h5V680h-5zM560 680h5V685h-5zM565 684h5V688h-5zM570 688h5V689h-5zM576 688h5V695h-5zM587 689h5V690h-5zM592 689h5V693h-5zM597 692h5V706h-5zM603 706h5V709h-5zM619 694h5V698h-5zM624 695h5V705h-5zM635 695h5V698h-5zM640 697h5V705h-5zM646 704h5V717h-5zM662 706h5V719h-5zM689 657h5V668h-5zM711 632h5V637h-5zM721 634h5V652h-5zM732 628h5V635h-5zM738 635h5V649h-5zM748 647h5V651h-5zM759 648h5V651h-5zM781 625h5V630h-5zM808 615h5V619h-5zM818 618h5V624h-5zM829 623h5V624h-5zM840 623h5V628h-5zM856 607h5V618h-5zM862 617h5V628h-5zM878 622h5V639h-5zM883 639h5V643h-5zM915 606h5V612h-5zM926 577h5V615h-5zM937 597h5V619h-5zM975 547h5V548h-5zM980 548h5V561h-5zM996 552h5V557h-5zM1002 556h5V560h-5zM1012 557h5V569h-5zM1029 566h5V569h-5zM1034 568h5V582h-5zM1056 558h5V567h-5zM1072 544h5V546h-5zM1083 543h5V549h-5zM1093 545h5V550h-5zM1115 535h5V552h-5zM1126 549h5V558h-5zM1153 429h5V435h-5zM1169 358h5V378h-5zM1180 373h5V432h-5zM1207 352h5V391h-5zM1217 381h5V394h-5zM1223 393h5V405h-5zM1244 375h5V396h-5zM1261 378h5V389h-5zM1266 389h5V404h-5zM1271 402h5V406h-5zM1277 406h5V429h-5zM1287 414h5V420h-5zM1293 418h5V444h-5zM1298 443h5V463h-5zM1309 448h5V454h-5zM1325 423h5V430h-5zM1336 421h5V425h-5zM1347 414h5V426h-5zM1368 402h5V444h-5zM1374 443h5V452h-5zM1379 451h5V452h-5zM1390 449h5V458h-5z" fill="#f23645"/>
<path d="M663 720.5L1160.5 262.5L1484 472.9" stroke="#000" stroke-width="2.4" fill="none" stroke-linejoin="miter"/>
<path d="M1164.3 455L1473 491" stroke="#000" stroke-width="2.4" fill="none"/>
<path d="M1121.4 117.2H1241.7a7 7 0 0 1 7 7V151.5a7 7 0 0 1 -7 7H1192.2L1181.9 276.4L1170.9 158.5H1121.4a7 7 0 0 1 -7 -7V124.2a7 7 0 0 1 7 -7z" fill="#4db6c4" stroke="#3aa4b4" stroke-width="1"/>
<text x="1181.5" y="141.6" text-anchor="middle" font-size="14" font-weight="bold" fill="#fff" textLength="109">Pennant Pattern</text>
<polyline points="13.6,902.3 19.0,900.8 27.1,900.1 32.5,898.3 44.2,907.7 54.2,904.1 60.1,900.1 66.8,890.5 75.8,878.8 82.1,876.5 96.5,875.2 109.1,872.5 119.9,878.5 128.9,879.7 140.7,886.9 148.8,889.3 163.2,896.9 168.6,901.4 183.0,904.1 197.4,912.2 207.3,917.6 211.8,918.8 233.5,909.8 243.4,903.7 253.3,904.1 260.5,906.4 270.4,905.9 286.6,917.6 292.9,927.5 307.4,948.2 313.7,956.3 327.2,967.1 341.2,978.3 350.0,978.3 361.7,978.9 368.0,981.9 377.0,987.0 387.8,987.0 398.7,991.3 405.0,988.8 410.4,983.7 417.6,974.3 427.5,963.5 438.3,952.4 448.2,938.3 454.5,931.1 463.5,933.4 470.4,935.2 480.7,944.1 492.4,952.7 502.3,964.4 508.6,968.0 517.6,974.0 525.7,977.6 532.9,979.8 540.1,980.1 546.4,984.3 556.3,988.4 566.3,996.9 573.5,999.9 578.0,999.9 586.1,1002.3 594.2,1005.9 599.6,1002.3 604.1,998.1 610.4,996.3 621.2,998.7 631.1,998.1 637.4,999.2 643.7,996.9 653.7,988.8 659.1,988.8 669.0,982.5 674.4,980.7 680.7,981.0 689.7,975.2 697.2,971.6 701.7,968.0 708.0,959.9 718.3,948.2 723.3,954.2 734.2,960.3 740.5,968.0 749.5,975.8 761.2,986.6 771.1,992.4 782.8,991.1 792.7,992.7 805.3,991.5 815.8,990.9 830.6,999.9 837.8,1003.5 846.8,1009.8 857.6,1005.0 870.2,1004.6 881.0,1004.1 890.9,1003.9 896.3,1005.3 907.2,1005.0 912.0,1000.5 918.5,1002.8 927.9,996.9 933.3,994.7 944.1,994.2 949.5,988.4 955.8,981.9 965.7,968.9 972.0,962.6 977.4,955.1 983.7,951.8 992.8,947.7 999.1,943.2 1009.5,938.7 1018.9,941.5 1025.2,944.6 1030.6,950.0 1036.0,957.2 1042.0,963.2 1048.0,965.8 1054.0,966.2 1062.1,965.8 1074.1,960.2 1085.1,953.8 1090.1,953.0 1105.2,948.2 1112.2,943.2 1122.2,940.6 1128.2,942.2 1133.8,945.2 1138.2,944.2 1144.2,936.2 1152.2,920.1 1162.3,900.1 1170.3,883.1 1177.3,874.0 1188.3,873.4 1196.3,871.6 1203.3,869.2 1210.4,872.0 1219.4,877.1 1225.4,883.1 1236.4,891.1 1245.4,897.1 1253.4,904.5 1263.5,911.1 1273.5,924.1 1280.5,935.2 1294.5,953.8 1306.6,959.2 1316.6,963.8 1327.6,975.9 1334.6,981.3 1343.6,989.3 1350.6,993.9 1358.7,999.9 1370.7,1002.3 1382.7,999.9 1396.7,996.9 1403.7,996.5" fill="none" stroke="#f0524f" stroke-width="1.1" stroke-linejoin="round"/>
<text x="1895" y="832.2" text-anchor="middle" font-size="14" fill="#3b3d45" textLength="37">12.00</text>
<text x="1895" y="776.1" text-anchor="middle" font-size="14" fill="#3b3d45" textLength="37">14.00</text>
<text x="1895" y="720.0" text-anchor="middle" font-size="14" fill="#3b3d45" textLength="37">16.00</text>
<text x="1895" y="663.9" text-anchor="middle" font-size="14" fill="#3b3d45" textLength="37">18.00</text>
<text x="1895" y="607.7" text-anchor="middle" font-size="14" fill="#3b3d45" textLength="37">20.00</text>
<text x="1895" y="551.6" text-anchor="middle" font-size="14" fill="#3b3d45" textLength="37">22.00</text>
<text x="1895" y="495.5" text-anchor="middle" font-size="14" fill="#3b3d45" textLength="37">24.00</text>
<text x="1895" y="439.3" text-anchor="middle" font-size="14" fill="#3b3d45" textLength="37">26.00</text>
<text x="1895" y="383.2" text-anchor="middle" font-size="14" fill="#3b3d45" textLength="37">28.00</text>
<text x="1895" y="327.1" text-anchor="middle" font-size="14" fill="#3b3d45" textLength="37">30.00</text>
<text x="1895" y="270.9" text-anchor="middle" font-size="14" fill="#3b3d45" textLength="37">32.00</text>
<text x="1895" y="214.8" text-anchor="middle" font-size="14" fill="#3b3d45" textLength="37">34.00</text>
<text x="1895" y="158.7" text-anchor="middle" font-size="14" fill="#3b3d45" textLength="37">36.00</text>
<text x="1895" y="102.5" text-anchor="middle" font-size="14" fill="#3b3d45" textLength="37">38.00</text>
<text x="1895" y="920.0" text-anchor="middle" font-size="14" fill="#3b3d45" textLength="37">40.00</text>
<text x="1895" y="989.0" text-anchor="middle" font-size="14" fill="#3b3d45" textLength="37">20.00</text>
<path d="M1866 256H1918.5a2 2 0 0 1 2 2V275a2 2 0 0 1 -2 2H1866z" fill="#000"/>
<text x="1895" y="271.2" text-anchor="middle" font-size="14" font-weight="bold" fill="#fff" textLength="37">32.00</text>
<path d="M1866 403H1918.5a2 2 0 0 1 2 2V422a2 2 0 0 1 -2 2H1866z" fill="#000"/>
<text x="1895" y="418.2" text-anchor="middle" font-size="14" font-weight="bold" fill="#fff" textLength="37">26.77</text>
<path d="M1866 710H1918.5a2 2 0 0 1 2 2V729a2 2 0 0 1 -2 2H1866z" fill="#000"/>
<text x="1895" y="725.2" text-anchor="middle" font-size="14" font-weight="bold" fill="#fff" textLength="37">15.82</text>
<path d="M1866 789H1918.5a2 2 0 0 1 2 2V808a2 2 0 0 1 -2 2H1866z" fill="#000"/>
<text x="1895" y="804.2" text-anchor="middle" font-size="14" font-weight="bold" fill="#fff" textLength="37">13.00</text>
<path d="M1866 381H1918.5a2 2 0 0 1 2 2V400a2 2 0 0 1 -2 2H1866z" fill="#000"/>
<text x="1895" y="396.2" text-anchor="middle" font-size="14" font-weight="bold" fill="#fff" textLength="37">27.20</text>
<clipPath id="c1"><rect x="1866" y="74" width="60" height="20"/></clipPath>
<g clip-path="url(#c1)">
<path d="M1866 66H1918.5a2 2 0 0 1 2 2V85a2 2 0 0 1 -2 2H1866z" fill="#000"/>
<text x="1895" y="81.2" text-anchor="middle" font-size="14" font-weight="bold" fill="#fff" textLength="37">38.78</text>
</g>
<path d="M1866 442H1918.5a2 2 0 0 1 2 2V479a2 2 0 0 1 -2 2H1866z" fill="#089981"/>
<text x="1895" y="457.7" text-anchor="middle" font-size="14" font-weight="bold" fill="#fff" textLength="37">25.36</text>
<text x="1895" y="475.4" text-anchor="middle" font-size="14" fill="#fff" fill-opacity="0.85" textLength="37">36:15</text>
<rect x="1871.5" y="39.5" width="58" height="29" rx="5" fill="#fff" stroke="#eceef3" stroke-width="1.5"/>
<text x="1900" y="59.3" text-anchor="middle" font-size="14.4" fill="#3b3d45" textLength="35">USDT</text>
<text x="120.5" y="1047.5" text-anchor="middle" font-size="14" fill="#131722">12</text>
<text x="233.5" y="1047.5" text-anchor="middle" font-size="14" fill="#131722">13:30</text>
<text x="346.5" y="1047.5" text-anchor="middle" font-size="14" fill="#131722">19</text>
<text x="459.5" y="1047.5" text-anchor="middle" font-size="14" fill="#131722">13:30</text>
<text x="572.5" y="1047.5" text-anchor="middle" font-size="14" fill="#131722">26</text>
<text x="734.5" y="1047.5" text-anchor="middle" font-size="14" font-weight="bold" fill="#131722">Jul</text>
<text x="864.5" y="1047.5" text-anchor="middle" font-size="14" fill="#131722">5</text>
<text x="1025.5" y="1047.5" text-anchor="middle" font-size="14" fill="#131722">10</text>
<text x="1139.5" y="1047.5" text-anchor="middle" font-size="14" fill="#131722">13:30</text>
<text x="1252.5" y="1047.5" text-anchor="middle" font-size="14" fill="#131722">17</text>
<text x="1365.5" y="1047.5" text-anchor="middle" font-size="14" fill="#131722">13:30</text>
<text x="1478.5" y="1047.5" text-anchor="middle" font-size="14" fill="#131722">24</text>
<text x="1608.5" y="1047.5" text-anchor="middle" font-size="14" fill="#131722">28</text>
<text x="1737.5" y="1047.5" text-anchor="middle" font-size="14" font-weight="bold" fill="#131722">Aug</text>
<path d="M13 1075.9H22.6V1087.8H17.9V1080.7H13z" fill="#1e222d"/><circle cx="26.7" cy="1078.2" r="2.35" fill="#1e222d"/><path d="M31.5 1075.9H37.2L32.85 1087.8H27z" fill="#1e222d"/>
<text x="42.2" y="1087.8" font-size="15" fill="#2a2e39" textLength="87">TradingView</text></svg></body></html>
